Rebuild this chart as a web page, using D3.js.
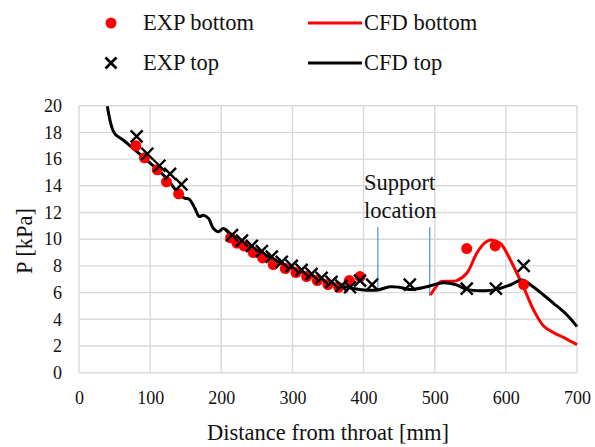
<!DOCTYPE html>
<meta charset="utf-8"/>
<style>
  body { margin: 0; background: #fff; }
  text { font-family: "Liberation Serif", "Times New Roman", serif; fill: #111; }
  .grid line { stroke: #d9d9d9; stroke-width: 1.4px; }
  .axis path, .axis line { display: none; }
</style>
<body>
<svg width="595" height="447"></svg>
</body>
<script src="https://d3js.org/d3.v7.min.js"></script>
<script>

  // experimental points, bottom wall
  var expBottomX = [80, 92, 110, 123, 140, 213, 222, 232, 245, 258, 273, 290, 305, 320, 335, 350, 365, 380, 395, 545, 585, 625]
  var expBottomP = [17.0, 16.1, 15.2, 14.3, 13.4, 10.1, 9.7, 9.5, 9.0, 8.6, 8.1, 7.8, 7.5, 7.2, 6.9, 6.6, 6.4, 6.9, 7.2, 9.3, 9.5, 6.6]

  // experimental points, top wall
  var expTopX = [81, 96, 113, 128, 144, 215, 229, 243, 257, 271, 285, 299, 313, 327, 341, 355, 369, 381, 395, 412, 465, 545, 586, 625]
  var expTopP = [17.7, 16.4, 15.5, 14.9, 14.1, 10.3, 9.9, 9.5, 9.1, 8.7, 8.3, 8.0, 7.7, 7.4, 7.1, 6.8, 6.5, 6.4, 6.9, 6.6, 6.6, 6.3, 6.3, 8.0]

  // CFD, top wall
  var cfdTopX = [39.8, 46, 51, 62, 76, 100, 123, 142, 149, 155, 163, 169, 175, 182, 189, 196, 203, 212,
    230, 250, 270, 290, 310, 330, 350, 370, 385, 400, 420, 437, 450, 465, 489, 512, 531, 545, 569, 587, 606, 623, 635, 653, 667, 686, 700]
  var cfdTopP = [19.95, 18.4, 17.85, 17.43, 16.8, 15.7, 14.56, 13.3, 13.06, 13.0, 12.3, 11.7, 11.8, 11.56, 10.8, 10.56, 10.8, 10.4,
    9.8, 9.2, 8.6, 8.05, 7.6, 7.2, 6.8, 6.5, 6.3, 6.2, 6.2, 6.44, 6.4, 6.24, 6.44, 6.74, 6.57, 6.24, 6.14, 6.24, 6.57, 6.94, 6.57, 5.82, 5.2, 4.32, 3.45]

  // CFD, bottom wall
  var cfdBottomX = [494, 500, 508, 520, 531, 545, 559, 570, 578, 592, 602, 611, 625, 639, 653, 667, 681, 700]
  var cfdBottomP = [5.82, 6.3, 6.8, 6.85, 6.9, 7.45, 8.94, 9.7, 9.94, 9.7, 8.9, 7.94, 6.4, 4.7, 3.5, 3.0, 2.65, 2.1]

  // support location markers
  var supportX = [420, 493]
  var supportTop = [10.9, 10.9]
  var supportBottom = [6.2, 5.75]

  var xTicks = [0, 100, 200, 300, 400, 500, 600, 700]
  var yTicks = [0, 2, 4, 6, 8, 10, 12, 14, 16, 18, 20]

  var svg = d3.select("svg")
  var plotLeft = 79, plotRight = 577, plotTop = 105.7, plotBottom = 372.7

  var x = d3.scaleLinear().domain([0, 700]).range([plotLeft, plotRight])
  var y = d3.scaleLinear().domain([0, 20]).range([plotBottom, plotTop])

  // grid
  var grid = svg.append("g").attr("class", "grid")
  grid.selectAll(".gx").data(xTicks).enter().append("line")
    .attr("x1", function (d) { return x(d) }).attr("x2", function (d) { return x(d) })
    .attr("y1", plotTop).attr("y2", plotBottom)
  grid.selectAll(".gy").data(yTicks).enter().append("line")
    .attr("x1", plotLeft).attr("x2", plotRight)
    .attr("y1", function (d) { return y(d) }).attr("y2", function (d) { return y(d) })

  // axes
  svg.append("g").attr("class", "axis")
    .attr("transform", "translate(0," + plotBottom + ")")
    .call(d3.axisBottom(x).tickValues(xTicks).tickSize(0).tickPadding(19))
    .selectAll("text").style("font-size", "18px").attr("fill", "#111")
    .style("font-family", '"Liberation Serif", "Times New Roman", serif')

  svg.append("g").attr("class", "axis")
    .attr("transform", "translate(" + plotLeft + ",0)")
    .call(d3.axisLeft(y).tickValues(yTicks).tickSize(0).tickPadding(17))
    .selectAll("text").style("font-size", "18px").attr("fill", "#111")
    .style("font-family", '"Liberation Serif", "Times New Roman", serif')

  svg.append("text")
    .attr("x", (plotLeft + plotRight) / 2).attr("y", 440)
    .attr("text-anchor", "middle")
    .style("font-size", "22.5px")
    .text("Distance from throat [mm]")

  svg.append("text")
    .attr("transform", "translate(32,241) rotate(-90)")
    .attr("text-anchor", "middle")
    .style("font-size", "22.5px")
    .text("P [kPa]")

  // support lines and label
  svg.selectAll(".support").data(supportX).enter().append("line")
    .attr("x1", function (d) { return x(d) }).attr("x2", function (d) { return x(d) })
    .attr("y1", function (d, i) { return y(supportTop[i]) })
    .attr("y2", function (d, i) { return y(supportBottom[i]) })
    .attr("stroke", "#5b9bd5").attr("stroke-width", 1.3)

  svg.append("text").attr("x", 364).attr("y", 190)
    .style("font-size", "22.5px").text("Support")
  svg.append("text").attr("x", 364).attr("y", 218)
    .style("font-size", "22.5px").text("location")

  // CFD lines
  var line = d3.line()
    .x(function (d) { return x(d[0]) })
    .y(function (d) { return y(d[1]) })
    .curve(d3.curveCatmullRom.alpha(0.5))

  svg.append("path")
    .datum(d3.zip(cfdBottomX, cfdBottomP))
    .attr("d", line)
    .attr("fill", "none").attr("stroke", "#ff0000").attr("stroke-width", 3)

  svg.append("path")
    .datum(d3.zip(cfdTopX, cfdTopP))
    .attr("d", line)
    .attr("fill", "none").attr("stroke", "#000").attr("stroke-width", 3)

  // EXP markers
  svg.append("g").selectAll("circle")
    .data(d3.zip(expBottomX, expBottomP))
    .enter().append("circle")
    .attr("cx", function (d) { return x(d[0]) })
    .attr("cy", function (d) { return y(d[1]) })
    .attr("r", 5.5)
    .attr("fill", "#ff0000")

  function crossPath(s) {
    return "M" + (-s) + "," + (-s) + "L" + s + "," + s + "M" + (-s) + "," + s + "L" + s + "," + (-s)
  }
  svg.append("g").selectAll("path")
    .data(d3.zip(expTopX, expTopP))
    .enter().append("path")
    .attr("transform", function (d) { return "translate(" + x(d[0]) + "," + y(d[1]) + ")" })
    .attr("d", crossPath(6))
    .attr("stroke", "#000").attr("stroke-width", 2.4).attr("fill", "none")

  // legend
  var legend = svg.append("g")
  legend.append("circle").attr("cx", 111).attr("cy", 23).attr("r", 5.5).attr("fill", "#ff0000")
  legend.append("path").attr("transform", "translate(111,63)").attr("d", crossPath(5.5))
    .attr("stroke", "#000").attr("stroke-width", 2.8).attr("fill", "none")
  legend.append("text").attr("x", 143).attr("y", 30).style("font-size", "22.5px").text("EXP bottom")
  legend.append("text").attr("x", 143).attr("y", 70).style("font-size", "22.5px").text("EXP top")

  legend.append("line").attr("x1", 308).attr("x2", 362).attr("y1", 23).attr("y2", 23)
    .attr("stroke", "#ff0000").attr("stroke-width", 3)
  legend.append("line").attr("x1", 308).attr("x2", 362).attr("y1", 63).attr("y2", 63)
    .attr("stroke", "#000").attr("stroke-width", 3)
  legend.append("text").attr("x", 364).attr("y", 30).style("font-size", "22.5px").text("CFD bottom")
  legend.append("text").attr("x", 364).attr("y", 70).style("font-size", "22.5px").text("CFD top")

</script>
